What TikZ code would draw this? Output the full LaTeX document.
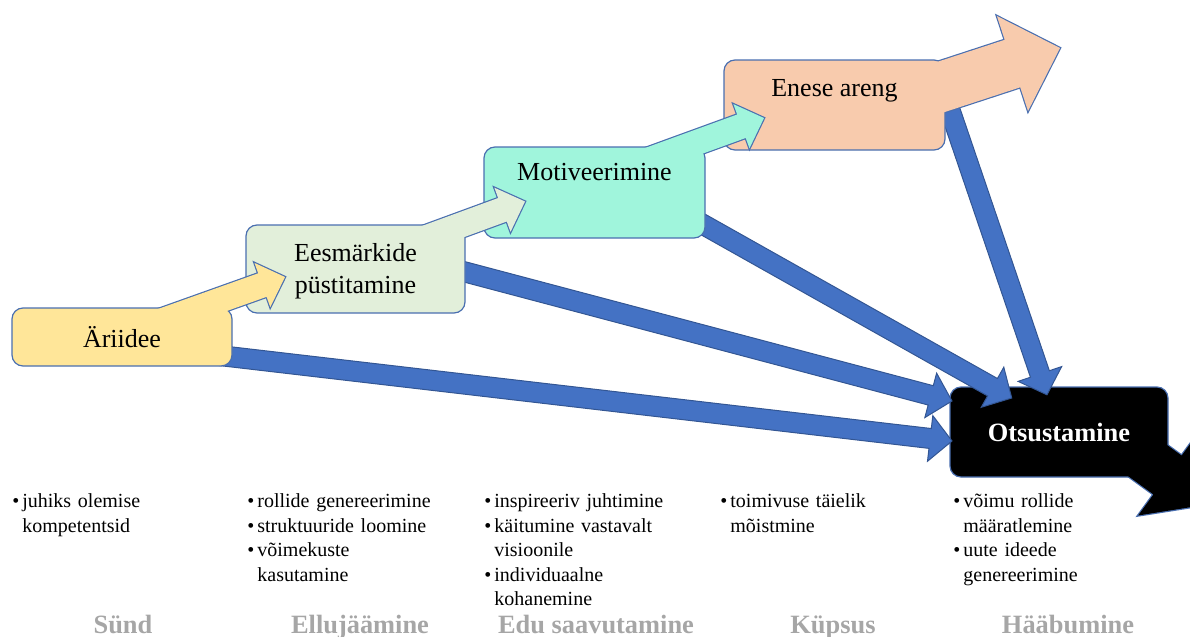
\documentclass[tikz,border=0pt]{standalone}
\usepackage{fontspec}
\setmainfont{Liberation Serif}
\usetikzlibrary{calc}
\definecolor{idea}{HTML}{FFE699}
\definecolor{goal}{HTML}{E2EFDA}
\definecolor{motiv}{HTML}{A0F5DC}
\definecolor{growth}{HTML}{F8CBAD}
\definecolor{flow}{HTML}{4472C4}
\definecolor{edge}{HTML}{4A6FB0}
\definecolor{phase}{HTML}{A6A6A6}
\newcommand\blockarrow[6][]{%
  \coordinate (ba-h) at ($(#3)!#6!(#2)$);
  \path[#1] ($(#2)!#4!90:(#3)$) -- ($(ba-h)!#4!90:(#3)$) -- ($(ba-h)!#5!90:(#3)$) -- (#3)
    -- ($(ba-h)!#5!-90:(#3)$) -- ($(ba-h)!#4!-90:(#3)$) -- ($(#2)!#4!-90:(#3)$) -- cycle;
}
\newcommand\bul[1]{\par\hangindent=5pt\hangafter=1\noindent\makebox[5pt][l]{\textbullet}#1\par}
\begin{document}
\begin{tikzpicture}[x=0.5pt,y=-0.5pt,
  box/.style={rectangle, rounded corners=5.5pt, draw=edge, line width=0.6pt, inner sep=0pt},
  boxtext/.style={font=\fontsize{13}{16}\selectfont, align=center, inner sep=0pt},
  wide/.style={draw=edge, line width=1.2pt},
  flowarrow/.style={fill=flow, draw=flow!75!black, line width=0.5pt},
  items/.style={anchor=north west, inner sep=0pt, text width=120pt, font=\fontsize{10}{12.25}\selectfont},
  phase/.style={anchor=base, text=phase, font=\fontsize{13.2}{16}\selectfont\bfseries}]
\useasboundingbox (0,0) rectangle (1190,637);
\coordinate (A-s) at (145.6,326.7);
\coordinate (A-e) at (285,277);
\coordinate (E-s) at (407.7,244.5);
\coordinate (E-e) at (525,201.5);
\coordinate (M-s) at (630,166.8);
\coordinate (M-e) at (764,118);
\coordinate (N-s) at (920.1,93.8);
\coordinate (N-e) at (1060,48);
\coordinate (O-s) at (1110.1,433.3);
\coordinate (O-e) at (1208,504.4);
\blockarrow[fill=black, wide]{O-s}{O-e}{12pt}{25pt}{25pt}
\node[box, fill=black, minimum width=109pt, minimum height=45pt] (O) at (1059,432) {};
\blockarrow[fill=black]{O-s}{O-e}{12pt}{25pt}{25pt}
\coordinate (A-b) at (150,347.4);
\coordinate (E-b) at (407,256.6);
\coordinate (M-b) at (651.7,195.6);
\coordinate (N-b) at (943.5,91);
\coordinate (tA) at (952,441);
\coordinate (tE) at (952,401);
\coordinate (tM) at (1011.7,398);
\coordinate (tN) at (1047,394.8);
\blockarrow[flowarrow]{A-b}{tA}{5pt}{11.5pt}{11pt}
\blockarrow[flowarrow]{E-b}{tE}{5pt}{11.5pt}{11pt}
\blockarrow[flowarrow]{M-b}{tM}{5pt}{11.5pt}{11pt}
\blockarrow[flowarrow]{N-b}{tN}{5pt}{11.5pt}{11pt}
\blockarrow[fill=growth, wide]{N-s}{N-e}{12.5pt}{25pt}{25pt}
\node[box, fill=growth, minimum width=110.5pt, minimum height=45pt] (N) at (834.5,105) {};
\blockarrow[fill=growth]{N-s}{N-e}{12.5pt}{25pt}{25pt}
\blockarrow[fill=motiv, wide]{M-s}{M-e}{6.25pt}{11.75pt}{12pt}
\node[box, fill=motiv, minimum width=110.5pt, minimum height=45.5pt] (M) at (594.5,192.5) {};
\blockarrow[fill=motiv]{M-s}{M-e}{6.25pt}{11.75pt}{12pt}
\blockarrow[fill=goal, wide]{E-s}{E-e}{6.25pt}{11.75pt}{12pt}
\node[box, fill=goal, minimum width=109.5pt, minimum height=44pt] (E) at (355.5,269) {};
\blockarrow[fill=goal]{E-s}{E-e}{6.25pt}{11.75pt}{12pt}
\blockarrow[fill=idea, wide]{A-s}{A-e}{6.25pt}{11.75pt}{12pt}
\node[box, fill=idea, minimum width=110pt, minimum height=29pt] (A) at (122,337) {};
\blockarrow[fill=idea]{A-s}{A-e}{6.25pt}{11.75pt}{12pt}
\node[boxtext] (A-t) at (A) {Äriidee};
\node[boxtext] (E-t) at ($(E)+(0,2)$) {Eesmärkide\\püstitamine};
\node[boxtext] (M-t) at ($(M.north)+(0,26)$) {Motiveerimine};
\node[boxtext] (N-t) at ($(N.north)+(0,31)$) {Enese areng};
\node[boxtext, text=white, font=\fontsize{13.2}{16}\selectfont\bfseries] (O-t) at (O) {Otsustamine};
\node[items] (c1) at (12,483) {\bul{juhiks olemise\newline kompetentsid}};
\node[items] (c2) at (247,483) {\bul{rollide genereerimine}\bul{struktuuride loomine}\bul{võimekuste\newline kasutamine}};
\node[items] (c3) at (484,483) {\bul{inspireeriv juhtimine}\bul{käitumine vastavalt\newline visioonile}\bul{individuaalne\newline kohanemine}};
\node[items] (c4) at (720,483) {\bul{toimivuse täielik\newline mõistmine}};
\node[items] (c5) at (953,483) {\bul{võimu rollide\newline määratlemine}\bul{uute ideede\newline genereerimine}};
\node[phase] (p1) at (123,633) {Sünd};
\node[phase] (p2) at (360,633) {Ellujäämine};
\node[phase] (p3) at (596,633) {Edu saavutamine};
\node[phase] (p4) at (833,633) {Küpsus};
\node[phase] (p5) at (1068,633) {Hääbumine};
\end{tikzpicture}
\end{document}
